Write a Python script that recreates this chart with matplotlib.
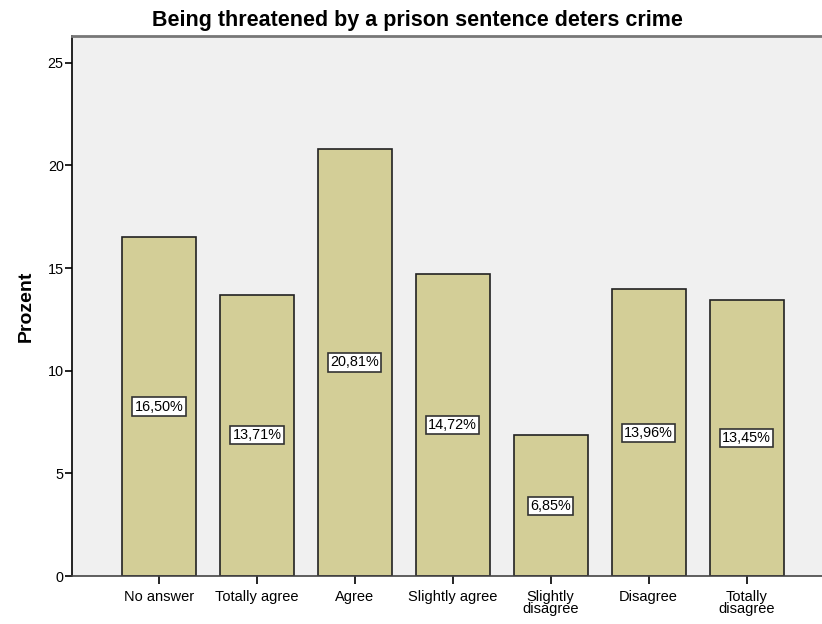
import matplotlib.pyplot as plt
import numpy as np

plt.rcParams['font.family'] = ['Liberation Sans', 'DejaVu Sans']

categories = ['No answer', 'Totally agree', 'Agree', 'Slightly agree',
              'Slightly\ndisagree', 'Disagree', 'Totally\ndisagree']
percent = [16.50, 13.71, 20.81, 14.72, 6.85, 13.96, 13.45]
yticks = [0, 5, 10, 15, 20, 25]


def main():
    fig = plt.figure(figsize=(8.22, 6.24), dpi=100)
    ax = fig.add_axes([0.0876, 0.0769, 0.9124, 0.8654])
    ax.set_facecolor('#f0f0f0')

    x = np.arange(len(categories))
    ax.bar(x, percent, width=0.755, color='#d3ce97', edgecolor='#222222', linewidth=1.2, zorder=2)

    for xi, v in zip(x, percent):
        label = ('%.2f%%' % v).replace('.', ',')
        ax.text(xi, v / 2, label, ha='center', va='center', fontsize=10.4, zorder=3,
                bbox=dict(boxstyle='square,pad=0.15', facecolor='white', edgecolor='#333333', linewidth=1.2))

    ax.set_xlim(-0.888, 6.77)
    ax.set_ylim(0, 26.3)
    ax.set_xticks(x)
    ax.set_xticklabels(categories, fontsize=10.5, linespacing=0.85)
    ax.set_yticks(yticks)
    ax.tick_params(axis='y', labelsize=10.4, length=5, width=1.2, direction='out', pad=1)
    ax.tick_params(axis='x', length=6, width=1.2, direction='out', pad=4)

    ax.spines['right'].set_visible(False)
    ax.spines['top'].set_color('#777777')
    ax.spines['top'].set_linewidth(2)
    ax.spines['left'].set_linewidth(1.2)
    ax.spines['bottom'].set_linewidth(1.2)
    ax.spines['bottom'].set_color('#444444')

    ax.set_ylabel('Prozent', fontsize=14, fontweight='bold', labelpad=9)
    # SPSS centres the title on the whole chart, not on the plot area
    ax.set_title('Being threatened by a prison sentence deters crime', fontsize=15.5,
                 fontweight='bold', x=0.461, pad=7)

    fig.savefig('out.png', dpi=100)


if __name__ == '__main__':
    main()
